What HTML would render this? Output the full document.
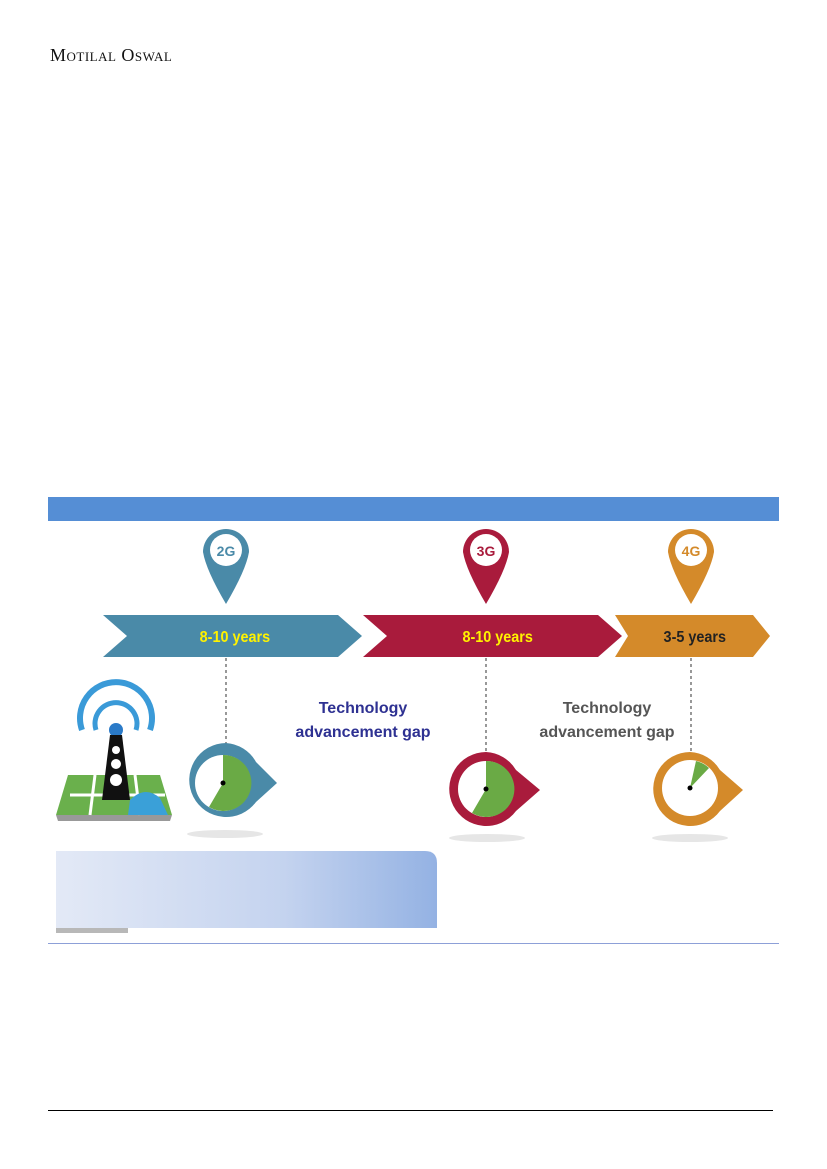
<!DOCTYPE html>
<html><head><meta charset="utf-8"><style>
body{margin:0;width:827px;height:1169px;background:#fff;position:relative;overflow:hidden;font-family:"Liberation Sans",sans-serif}
.hdr{position:absolute;left:50px;top:45px;font-family:"Liberation Serif",serif;font-size:18px;font-variant:small-caps;letter-spacing:0.5px;color:#111}
</style></head><body>
<div class="hdr">Motilal Oswal</div>
<svg width="827" height="1169" style="position:absolute;left:0;top:0">
<defs>
<linearGradient id="g" x1="0" x2="1"><stop offset="0" stop-color="#e3e9f6"/><stop offset="0.6" stop-color="#c4d3ef"/><stop offset="1" stop-color="#94b2e3"/></linearGradient>
</defs>
<rect x="48" y="497" width="731" height="24" fill="#558ed5"/>
<polygon points="103,615 338,615 362,636 338,657 103,657 127,636" fill="#4a8aa8"/>
<polygon points="363,615 598,615 622,636 598,657 363,657 387,636" fill="#a91b3c"/>
<polygon points="615,615 753,615 770,636 753,657 615,657 628,636" fill="#d48a2a"/>
<g font-family="Liberation Sans" font-weight="bold" font-size="16" text-anchor="middle">
<text x="235" y="642" fill="#fff200" transform="scale(0.9,1) translate(26,0)">8-10 years</text>
<text x="498" y="642" fill="#fff200" transform="scale(0.9,1) translate(55,0)">8-10 years</text>
<text x="695" y="642" fill="#222" transform="scale(0.9,1) translate(77,0)">3-5 years</text>
</g>
<g>
<path d="M203,552 A23,23 0 1 1 249,552 Q246,570 226,604 Q206,570 203,552Z" fill="#4a8aa8"/>
<circle cx="226" cy="550" r="16" fill="#fff"/>
<text x="226" y="556" font-size="14" font-weight="bold" fill="#4a8aa8" text-anchor="middle">2G</text>
<path d="M463,552 A23,23 0 1 1 509,552 Q506,570 486,604 Q466,570 463,552Z" fill="#a91b3c"/>
<circle cx="486" cy="550" r="16" fill="#fff"/>
<text x="486" y="556" font-size="14" font-weight="bold" fill="#a91b3c" text-anchor="middle">3G</text>
<path d="M668,552 A23,23 0 1 1 714,552 Q711,570 691,604 Q671,570 668,552Z" fill="#d48a2a"/>
<circle cx="691" cy="550" r="16" fill="#fff"/>
<text x="691" y="556" font-size="14" font-weight="bold" fill="#d48a2a" text-anchor="middle">4G</text>
</g>
<g stroke="#555" stroke-dasharray="3,3" stroke-width="1.2">
<line x1="226" y1="658" x2="226" y2="745"/>
<line x1="486" y1="658" x2="486" y2="753"/>
<line x1="691" y1="658" x2="691" y2="753"/>
</g>
<ellipse cx="225" cy="834" rx="38" ry="4" fill="#e6e6e6"/>
<ellipse cx="487" cy="838" rx="38" ry="4" fill="#e6e6e6"/>
<ellipse cx="690" cy="838" rx="38" ry="4" fill="#e6e6e6"/>
<path d="M226,743 A37,37 0 1 0 256,802 L277,783 L256,762 A37,37 0 0 0 226,743Z" fill="#4a8aa8"/>
<circle cx="223" cy="783" r="28" fill="#fff"/>
<path d="M223,783 L223,755 A28,28 0 1 1 209,807Z" fill="#6aaa45"/>
<circle cx="223" cy="783" r="2.5" fill="#000"/>
<path d="M486,752 A37,37 0 1 0 516,811 L540,790 L516,770 A37,37 0 0 0 486,752Z" fill="#a91b3c"/>
<circle cx="486" cy="789" r="28" fill="#fff"/>
<path d="M486,789 L486,761 A28,28 0 1 1 472,813Z" fill="#6aaa45"/>
<circle cx="486" cy="789" r="2.5" fill="#000"/>
<path d="M690,752 A37,37 0 1 0 720,811 L743,790 L720,770 A37,37 0 0 0 690,752Z" fill="#d48a2a"/>
<circle cx="690" cy="788" r="28" fill="#fff"/>
<path d="M690,788 L696,761 A28,28 0 0 1 709,768Z" fill="#6aaa45"/>
<circle cx="690" cy="788" r="2.5" fill="#000"/>
<g font-size="16" font-weight="bold" text-anchor="middle">
<text x="363" y="713" fill="#2e3192">Technology</text>
<text x="363" y="737" fill="#2e3192">advancement gap</text>
<text x="607" y="713" fill="#555">Technology</text>
<text x="607" y="737" fill="#555">advancement gap</text>
</g>
<polygon points="68,775 160,775 172,815 56,815" fill="#6ab04c"/>
<polygon points="56,815 172,815 170,821 58,821" fill="#999"/>
<g stroke="#fff" stroke-width="3"><line x1="70" y1="795" x2="165" y2="795"/><line x1="95" y1="775" x2="90" y2="815"/><line x1="135" y1="775" x2="140" y2="815"/></g>
<path d="M130,800 Q145,785 160,798 L168,815 L128,815Z" fill="#3aa0d8"/>
<path d="M82,730 A36,36 0 1 1 150,730" fill="none" stroke="#3a9ad8" stroke-width="6"/>
<path d="M96,730 A21,21 0 1 1 136,730" fill="none" stroke="#3a9ad8" stroke-width="5"/>
<circle cx="116" cy="730" r="7" fill="#2a7ac8"/>
<polygon points="110,735 122,735 130,800 102,800" fill="#111"/>
<circle cx="116" cy="750" r="4" fill="#fff"/><circle cx="116" cy="764" r="5" fill="#fff"/><circle cx="116" cy="780" r="6" fill="#fff"/>
<path d="M56,851 L425,851 Q437,851 437,863 L437,928 L56,928Z" fill="url(#g)"/>
<rect x="56" y="928" width="72" height="5" fill="#b8b8b8"/>
<line x1="48" y1="943.5" x2="779" y2="943.5" stroke="#8da0d8" stroke-width="1"/>
<line x1="48" y1="1110.5" x2="773" y2="1110.5" stroke="#000" stroke-width="1"/>
</svg>
</body></html>
